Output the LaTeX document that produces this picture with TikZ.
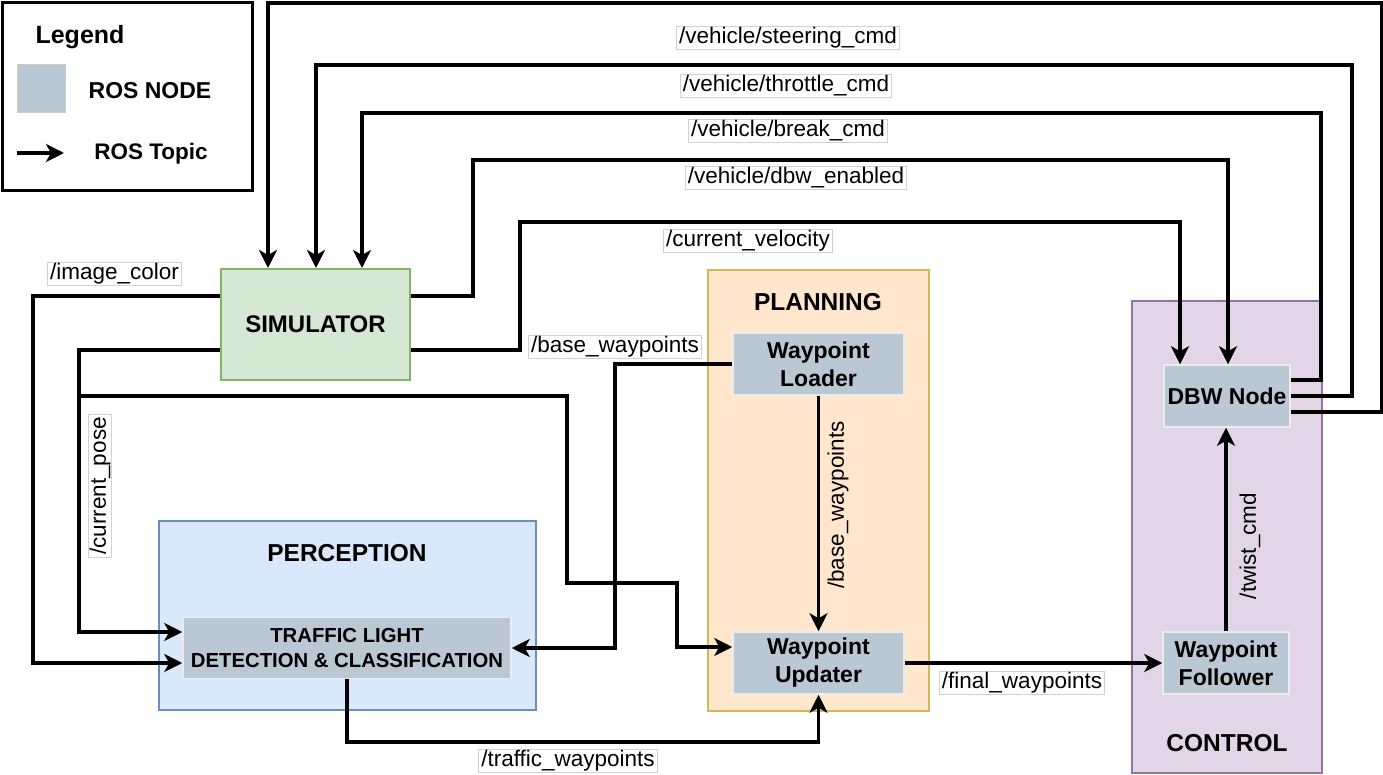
\documentclass[tikz,border=0pt]{standalone}
\usepackage{fontspec}
\setmainfont{Liberation Sans}
\usetikzlibrary{arrows.meta,calc}
\definecolor{rosfill}{HTML}{BAC8D3}
\definecolor{simfill}{HTML}{D5E8D4}\definecolor{simdraw}{HTML}{82B366}
\definecolor{perfill}{HTML}{DAE8FC}\definecolor{perdraw}{HTML}{6C8EBF}
\definecolor{plafill}{HTML}{FFE6CC}\definecolor{pladraw}{HTML}{D6B656}
\definecolor{ctlfill}{HTML}{E1D5E7}\definecolor{ctldraw}{HTML}{9673A6}
\tikzset{
  rosnode/.style={rectangle, fill=rosfill, draw=white!85!gray, line width=1.5pt, font=\bfseries\fontsize{23}{28}\selectfont, align=center, inner sep=0pt},
  group/.style={rectangle, line width=2pt, inner sep=0pt},
  grouptitle/.style={font=\bfseries\fontsize{24.5}{28}\selectfont, inner sep=0pt},
  topic/.style={rectangle, fill=white, draw=black!18, line width=1pt, font=\fontsize{22.5}{26}\selectfont, inner xsep=2.5pt, inner ysep=1.5pt},
  arr/.style={line width=3.2pt, -{Stealth[length=18pt,width=18pt,inset=5pt]}, line join=miter},
}
\begin{document}
\begin{tikzpicture}[x=1pt,y=-1pt]
\useasboundingbox (0,0) rectangle (1383,775);
% legend
\node[draw=black, line width=3.2pt, minimum width=250pt, minimum height=188pt, inner sep=0pt] (legend) at (127.5,96.5) {};
\node[font=\bfseries\fontsize{25}{28}\selectfont, inner sep=0pt] (legtitle) at (80,37) {Legend};
\node[rectangle, fill=rosfill, draw=black!20, line width=1pt, minimum width=48pt, minimum height=48pt, inner sep=0pt] (swatch) at (41,89) {};
\node[font=\bfseries\fontsize{23}{26}\selectfont, inner sep=0pt] (legnode) at (150,91) {ROS NODE};
\node[font=\bfseries\fontsize{22.5}{26}\selectfont, inner sep=0pt] (legtopic) at (151,154) {ROS Topic};
\coordinate (la) at (17,153);
\coordinate (lb) at (64,153);
\draw[arr] (la) -- (lb);
% groups
\node[group, fill=perfill, draw=perdraw, minimum width=377pt, minimum height=189pt] (perc) at (347.5,615.5) {};
\node[group, fill=plafill, draw=pladraw, minimum width=221pt, minimum height=441pt] (plan) at (818.5,490.5) {};
\node[group, fill=ctlfill, draw=ctldraw, minimum width=190pt, minimum height=472pt] (ctrl) at (1227,537) {};
\node[grouptitle] (perct) at (347,553) {PERCEPTION};
\node[grouptitle] (plant) at (818,302) {PLANNING};
\node[grouptitle] (ctrlt) at (1227,743) {CONTROL};
% nodes
\node[rectangle, fill=simfill, draw=simdraw, line width=2pt, minimum width=189pt, minimum height=111pt, inner sep=0pt, font=\bfseries\fontsize{24}{28}\selectfont] (sim) at (315.5,324.5) {SIMULATOR};
\node[rosnode, minimum width=328pt, minimum height=61pt, font=\bfseries\fontsize{20.3}{25}\selectfont] (tl) at (347,648) {TRAFFIC LIGHT\\DETECTION \& CLASSIFICATION};
\node[rosnode, minimum width=171pt, minimum height=62pt] (wl) at (818.5,364) {Waypoint\\Loader};
\node[rosnode, minimum width=171pt, minimum height=62pt] (wu) at (818.5,663) {Waypoint\\Updater};
\node[rosnode, minimum width=126pt, minimum height=62pt] (dbw) at (1227,396) {DBW Node};
\node[rosnode, minimum width=126pt, minimum height=62pt] (wf) at (1226,663) {Waypoint\\Follower};
% connectors from DBW to simulator
\draw[arr] ([yshift=-16pt]dbw.east) -- (1382,412) -- (1382,3) -- (268,3) -- ([xshift=-47.5pt]sim.north);
\draw[arr] (dbw.east) -- (1352,396) -- (1352,65) -- (316,65) -- ([xshift=0.5pt]sim.north);
\draw[arr] ([yshift=16pt]dbw.east) -- (1321,380) -- (1321,113) -- (362,113) -- ([xshift=46.5pt]sim.north);
% simulator to DBW
\draw[arr] ([yshift=28.5pt]sim.east) -- (473,296) -- (473,160) -- (1228,160) -- ([xshift=1pt]dbw.north);
\draw[arr] ([yshift=-25.5pt]sim.east) -- (520,350) -- (520,222) -- (1180,222) -- ([xshift=-47pt]dbw.north);
% simulator to perception / planning
\draw[arr] ([yshift=28.5pt]sim.west) -- (33,296) -- (33,663) -- ([yshift=-15pt]tl.west);
\draw[arr] ([yshift=-25.5pt]sim.west) -- (79,350) -- (79,632) -- ([yshift=16pt]tl.west);
\coordinate (junc) at (79,396);
\draw[arr] (junc) -- (567,396) -- (567,583) -- (677,583) -- (677,647) -- ([yshift=16pt]wu.west);
% planning
\draw[arr] (wl.west) -- (615,364) -- (615,648) -- (tl.east);
\draw[arr] (wl.south) -- (wu.north);
\draw[arr] (tl.south) -- (347,742) -- (818.5,742) -- (wu.south);
\draw[arr] (wu.east) -- (wf.west);
\draw[arr] (wf.north) -- (wf.north |- dbw.south);
% topic labels
\node[topic] (t1) at (788,38) {/vehicle/steering\_cmd};
\node[topic] (t2) at (786,86) {/vehicle/throttle\_cmd};
\node[topic] (t3) at (788,131) {/vehicle/break\_cmd};
\node[topic] (t4) at (796,178) {/vehicle/dbw\_enabled};
\node[topic] (t5) at (748,241) {/current\_velocity};
\node[topic] (t6) at (114.5,274) {/image\_color};
\node[topic] (t7) at (615,347) {/base\_waypoints};
\node[topic, rotate=90] (t8) at (100,486) {/current\_pose};
\node[topic, rotate=90, draw=none, fill=plafill] (t9) at (838,505) {/base\_waypoints};
\node[topic, rotate=90, draw=none, fill=ctlfill] (t10) at (1250,546) {/twist\_cmd};
\node[topic] (t11) at (1022,683) {/final\_waypoints};
\node[topic] (t12) at (568,761) {/traffic\_waypoints};
\end{tikzpicture}
\end{document}
